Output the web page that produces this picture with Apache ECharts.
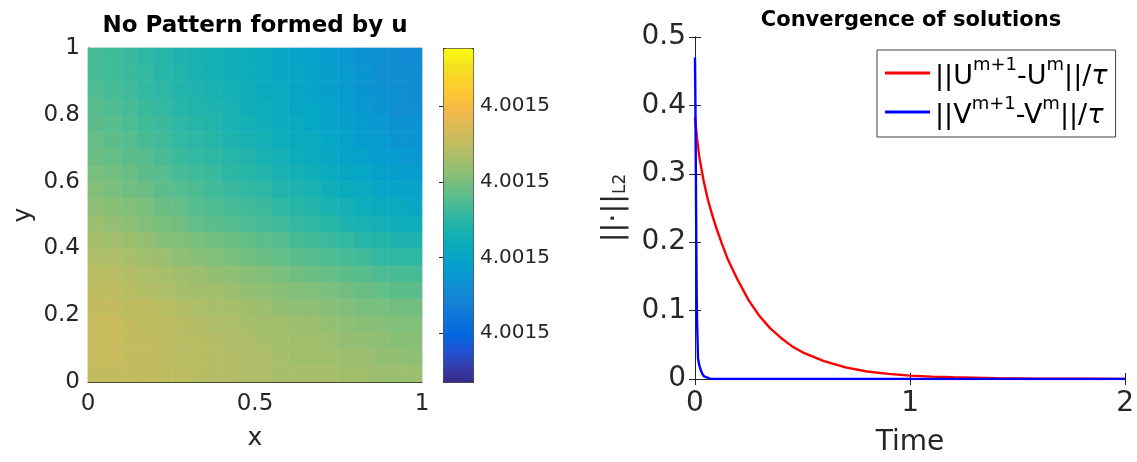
<!DOCTYPE html>
<html><head><meta charset="utf-8">
<script src="https://cdn.jsdelivr.net/npm/echarts@6/dist/echarts.min.js"></script>
<style>html,body{margin:0;padding:0;background:#fff}#c{width:1137px;height:462px}</style>
</head><body><div id="c"></div>
<script>
// ---------- Left panel: field u(x,y) ----------
// colour-bar range of u (all tick labels read "4.0015")
const U_MIN = 4.0014935;
const U_MAX = 4.0015377;
const colorbarTicks = [4.00150, 4.00151, 4.00152, 4.00153];
const xCenters = ['0.025','0.075','0.125','0.175','0.225','0.275','0.325','0.375','0.425','0.475','0.525','0.575','0.625','0.675','0.725','0.775','0.825','0.875','0.925','0.975'];
const yCenters = xCenters.slice();
const uLevelRows = [
 [72,72,72,72,71,71,70,69,69,68,68,67,67,67,67,66,66,65,65,65],
 [73,73,72,72,71,70,70,69,69,68,68,67,66,66,66,65,65,64,64,63],
 [73,73,72,72,71,70,70,69,68,68,67,66,66,66,65,64,64,63,62,62],
 [73,73,72,71,71,70,69,68,68,67,66,66,65,65,64,63,62,62,61,61],
 [72,72,71,71,70,69,68,67,67,66,65,64,63,63,62,61,60,60,59,59],
 [71,71,70,69,68,67,66,66,65,64,63,62,61,61,60,59,58,57,56,56],
 [70,70,69,68,67,66,65,64,63,62,61,60,59,58,57,56,55,54,53,53],
 [68,68,67,66,65,63,62,61,60,59,58,57,56,55,54,53,52,50,49,49],
 [67,66,65,64,62,61,60,59,58,57,56,55,53,52,51,50,48,47,46,46],
 [65,64,63,61,60,59,57,56,55,54,53,52,50,49,48,46,45,44,43,42],
 [63,62,61,60,58,57,55,54,53,52,51,49,48,47,45,44,42,41,40,39],
 [61,60,59,58,56,55,54,52,51,50,49,47,46,45,43,41,40,38,37,37],
 [60,59,58,56,55,53,52,51,49,48,47,45,44,43,41,39,38,36,35,34],
 [58,57,56,55,53,51,50,49,48,47,45,44,42,41,39,37,36,34,33,32],
 [57,56,55,53,52,50,49,48,46,45,44,42,41,40,38,36,34,33,31,31],
 [56,55,54,52,51,49,48,47,45,44,43,41,40,38,37,35,33,32,30,30],
 [55,54,53,51,50,48,47,46,45,43,42,41,39,38,36,34,32,31,29,29],
 [54,53,52,50,49,47,46,45,44,43,41,40,38,37,35,33,31,30,29,28],
 [53,52,51,50,48,47,45,44,43,42,41,39,38,36,35,33,31,29,28,28],
 [53,52,51,49,48,46,45,44,43,42,40,39,37,36,34,32,30,29,28,27]
];
const parula = ['#352a87','#353dad','#2053d4','#0268e1','#0d75dc','#1481d6','#108ed2','#079ccf','#06a7c6','#0faeb9','#25b5a9','#42bb98','#65be86','#87bf77','#a5be6b','#c0bc60','#d9ba56','#f1b94a','#ffc337','#fad32a','#f5e41d','#f9fb0e'];

// ---------- Right panel: convergence ----------
const tU = [0,0.01,0.02,0.04,0.06,0.08,0.1,0.125,0.15,0.175,0.2,0.25,0.3,0.35,0.4,0.45,0.5,0.6,0.7,0.8,0.9,1.0,1.1,1.2,1.4,1.6,1.8,2.0];
const normU = [0.383,0.35,0.325,0.29,0.262,0.24,0.22,0.198,0.177,0.16,0.144,0.115,0.092,0.074,0.06,0.048,0.039,0.026,0.017,0.011,0.0075,0.005,0.0035,0.0025,0.0012,0.0006,0.0003,0.00015];
const tV = [0,0.002,0.004,0.006,0.008,0.01,0.014,0.02,0.028,0.035,0.042,0.05,0.07,0.1,0.5,1.0,1.5,2.0];
const normV = [0.47,0.40,0.30,0.20,0.12,0.08,0.03,0.02,0.012,0.007,0.004,0.002,0.0005,0.0001,0,0,0,0];

const FONT = 'DejaVu Sans';
const INK = '#262626';

const heatData = [];
uLevelRows.forEach((row, j) => row.forEach((lvl, i) => {
  heatData.push([i, j, U_MIN + lvl / 100 * (U_MAX - U_MIN)]);
}));
const zip = (a, b) => a.map((v, k) => [v, b[k]]);

const chart = echarts.init(document.getElementById('c'));
const frameAxis = (extra) => Object.assign({
  axisLine: {show: true, lineStyle: {color: INK, width: 1}},
  axisTick: {show: true, inside: true, length: 6, lineStyle: {color: INK}},
  splitLine: {show: false}
}, extra);

chart.setOption({
  animation: false,
  textStyle: {fontFamily: FONT},
  title: [
    {text: 'No Pattern formed by u', left: 255, top: 15, padding: 0, textAlign: 'center',
     textStyle: {fontFamily: FONT, fontSize: 23, fontWeight: 'bold', color: '#000'}},
    {text: 'Convergence of solutions', left: 911, top: 10, padding: 0, textAlign: 'center',
     textStyle: {fontFamily: FONT, fontSize: 21, fontWeight: 'bold', color: '#000'}}
  ],
  grid: [
    {left: 88, top: 48, width: 334, height: 334, show: true, borderColor: '#d4d4d4', borderWidth: 1, backgroundColor: 'transparent'},
    {left: 443, top: 48, width: 30, height: 334},
    {left: 695, top: 37, width: 432, height: 347}
  ],
  visualMap: {
    type: 'continuous', seriesIndex: 0, dimension: 2, min: U_MIN, max: U_MAX,
    left: 443, top: 48, itemWidth: 30, itemHeight: 334, padding: 0,
    calculable: false, hoverLink: false, text: null,
    borderColor: INK, borderWidth: 1,
    inRange: {color: parula}
  },
  xAxis: [
    {type: 'category', gridIndex: 0, data: xCenters, show: false},
    {type: 'value', gridIndex: 0, min: 0, max: 1, interval: 0.5, position: 'bottom',
     axisLine: {show: true, lineStyle: {color: INK}}, axisTick: {show: false}, splitLine: {show: false},
     axisLabel: {fontSize: 23, color: INK, margin: 11},
     name: 'x', nameLocation: 'middle', nameGap: 44, nameTextStyle: {fontSize: 25, color: INK}},
    {type: 'value', gridIndex: 1, min: 0, max: 1, show: false},
    frameAxis({type: 'value', gridIndex: 2, min: 0, max: 2, interval: 1, position: 'bottom',
     axisLabel: {fontSize: 28, color: INK, margin: 11},
     name: 'Time', nameLocation: 'middle', nameGap: 50, nameTextStyle: {fontSize: 28, color: INK}}),
    frameAxis({type: 'value', gridIndex: 2, min: 0, max: 2, interval: 1, position: 'top', axisLabel: {show: false}})
  ],
  yAxis: [
    {type: 'category', gridIndex: 0, data: yCenters, show: false},
    {type: 'value', gridIndex: 0, min: 0, max: 1, interval: 0.2, position: 'left',
     axisLine: {show: true, lineStyle: {color: INK}}, axisTick: {show: false}, splitLine: {show: false},
     axisLabel: {fontSize: 23, color: INK, margin: 8},
     name: 'y', nameLocation: 'middle', nameRotate: 90, nameGap: 52, nameTextStyle: {fontSize: 25, color: INK}},
    {type: 'value', gridIndex: 1, position: 'right', min: U_MIN, max: U_MAX,
     axisLine: {show: false},
     axisTick: {show: true, inside: true, length: 4, customValues: colorbarTicks, lineStyle: {color: INK}},
     axisLabel: {show: true, customValues: colorbarTicks, formatter: v => Number(v).toFixed(4), fontSize: 20, color: INK, margin: 7},
     splitLine: {show: false}},
    frameAxis({type: 'value', gridIndex: 2, min: 0, max: 0.5, interval: 0.1, position: 'left',
     axisLabel: {fontSize: 28, color: INK, margin: 9},
     name: '{n|||·||}{s|L2}', nameLocation: 'middle', nameRotate: 90, nameGap: 66,
     nameTextStyle: {color: INK, rich: {
       n: {fontSize: 29, lineHeight: 34, verticalAlign: 'bottom', color: INK, fontFamily: FONT},
       s: {fontSize: 17, lineHeight: 12, verticalAlign: 'bottom', color: INK, fontFamily: FONT}}}}),
    frameAxis({type: 'value', gridIndex: 2, min: 0, max: 0.5, interval: 0.1, position: 'right', axisLabel: {show: false}})
  ],
  legend: {
    orient: 'vertical', left: 877, top: 50, padding: [6, 8, 8, 8], itemGap: 5,
    icon: 'rect', itemWidth: 45, itemHeight: 3,
    borderColor: '#404040', borderWidth: 1, backgroundColor: '#fff',
    selectedMode: false, data: ['U', 'V'],
    formatter: name => name === 'U'
      ? '{n|||U}{s|m+1}{n|-U}{s|m}{n|||/}{t|τ}'
      : '{n|||V}{s|m+1}{n|-V}{s|m}{n|||/}{t|τ}',
    textStyle: {rich: {
      n: {fontSize: 27, lineHeight: 34, verticalAlign: 'bottom', color: '#000', fontFamily: FONT},
      s: {fontSize: 18, lineHeight: 12, verticalAlign: 'top', color: '#000', fontFamily: FONT},
      t: {fontSize: 27, lineHeight: 34, verticalAlign: 'bottom', fontStyle: 'italic', color: '#000', fontFamily: FONT}
    }}
  },
  series: [
    {type: 'heatmap', xAxisIndex: 0, yAxisIndex: 0, data: heatData, progressive: 0,
     emphasis: {disabled: true}, itemStyle: {borderWidth: 0}},
    {type: 'line', name: 'U', xAxisIndex: 3, yAxisIndex: 3, data: zip(tU, normU),
     symbol: 'none', showSymbol: false, lineStyle: {color: '#ff0000', width: 2.4}, itemStyle: {color: '#ff0000'}},
    {type: 'line', name: 'V', xAxisIndex: 3, yAxisIndex: 3, data: zip(tV, normV),
     symbol: 'none', showSymbol: false, lineStyle: {color: '#0000ff', width: 2.4}, itemStyle: {color: '#0000ff'}}
  ]
});
</script>
</body></html>
